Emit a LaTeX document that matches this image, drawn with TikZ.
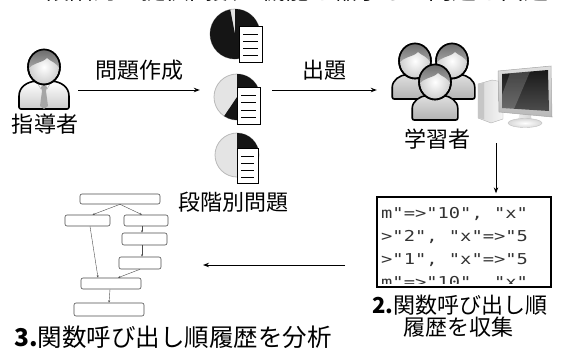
\documentclass[tikz,border=0pt]{standalone}
\usepackage{fontspec}
\setmainfont{Noto Sans CJK JP}
\newfontfamily\codefont{DejaVu Sans Mono}
\usetikzlibrary{arrows.meta}

\definecolor{piedark}{HTML}{151515}
\definecolor{pielight}{HTML}{E4E4E4}

\tikzset{
  lbl/.style={inner sep=0pt, font=\fontsize{22}{22}\selectfont},
  biglbl/.style={inner sep=0pt, font=\fontsize{24.5}{24.5}\selectfont},
  flow/.style={-{Stealth[length=6pt,width=4.5pt]}, line width=0.9pt},
  fbox/.style={draw=black!70, rounded corners=2pt, line width=0.6pt, inner sep=0pt},
  farr/.style={-{Stealth[length=2.4pt,width=2pt]}, line width=0.4pt, draw=black!70},
  anchorbox/.style={inner sep=0pt, minimum height=1pt},
  % head with hair, shared by all figures
  pics/headpart/.style={code={
    \path[draw=black, line width=1.6pt, inner color=white, outer color=gray!40]
      (0,0) ellipse [x radius=16, y radius=17.5];
    \path[top color=gray!85!black, bottom color=gray!65]
      (-16,3) .. controls (-17,-12) and (-9,-17.5) .. (0,-17.5)
      .. controls (9,-17.5) and (17,-12) .. (16,3)
      .. controls (13,-5) and (7,-5) .. (3,-9)
      .. controls (-3,-3) and (-12,-5) .. (-16,3) -- cycle;
    \draw[line width=1.6pt] (0,0) ellipse [x radius=16, y radius=17.5];
  }},
  pics/teacherfig/.style={code={
    \path[draw=black, line width=1.6pt, top color=white, bottom color=gray!40, rounded corners=2pt]
      (-25,42) -- (-25,31) .. controls (-25,20) and (-17,15) .. (-7,14) -- (7,14)
      .. controls (17,15) and (25,20) .. (25,31) -- (25,42) -- cycle;
    \draw[gray!60, line width=0.5pt] (-8,14) -- (-3,22) -- (0,17) -- (3,22) -- (8,14);
    \fill[gray!70] (0,17) -- (-3,20) -- (-2,24) -- (-4,39) -- (0,42) -- (4,39) -- (2,24) -- (3,20) -- cycle;
    \pic {headpart};
  }},
  pics/learnerfig/.style={code={
    \path[draw=black, line width=1.6pt, top color=gray!25, bottom color=gray!60, rounded corners=2pt]
      (-24,40) -- (-24,30) .. controls (-24,20) and (-16,15) .. (-7,14) -- (7,14)
      .. controls (16,15) and (24,20) .. (24,30) -- (24,40) -- cycle;
    \fill[white] (-6,14) -- (-3,19) -- (0,16) -- (3,19) -- (6,14) -- cycle;
    \draw[gray!70, line width=0.5pt] (-6,14) -- (-3,19) -- (0,16) -- (3,19) -- (6,14);
    \pic {headpart};
  }},
}

% a pie chart; the dark sector runs from #4 to #5 degrees
\newcommand\piechart[5]{%
  \begin{scope}[shift={(#1,#2)}, yscale=-1]
    \fill[pielight] (0,0) circle (#3);
    \draw[gray!55, line width=0.8pt] (0,0) circle (#3);
    \fill[piedark] (0,0) -- (#4:#3) arc[start angle=#4, end angle=#5, radius=#3] -- cycle;
  \end{scope}}
% a sheet of paper with four text lines
\newcommand\sheet[4]{%
  \filldraw[fill=white, draw=black, line width=0.9pt] (#1,#2) rectangle (#3,#4);
  \foreach \k in {1,2,3,4}
    \draw[line width=0.9pt] ({#1+4},{#2+(#4-#2)*(\k*0.2+0.03)}) -- ({#3-4},{#2+(#4-#2)*(\k*0.2+0.03)});}

\begin{document}
\begin{tikzpicture}[x=1pt, y=-1pt]
\useasboundingbox (0,0) rectangle (561,354);
\clip (0,0) rectangle (561,354);

% heading
\node[anchor=base, inner sep=0pt, font=\fontsize{24}{24}\selectfont] (title) at (287,-1)
  {1.段階的に提供関数・機能を縮小して問題を出題};

% teacher
\pic at (44,67) {teacherfig};
\node[lbl] (teacherlbl) at (45,124) {指導者};
\node[anchorbox, minimum width=62pt] (teacher) at (47,90) {};

% staged problems
\piechart{235}{34}{25}{101}{450}
\sheet{239}{26}{262}{62}
\piechart{237}{97}{23}{236}{450}
\sheet{237}{87}{260}{124}
\piechart{237}{155}{22}{0}{90}
\sheet{237}{148}{258}{183}
\node[lbl] (problbl) at (233,202) {段階別問題};
\node[anchorbox, minimum width=72pt] (probs) at (236,90) {};

% learners
\pic[scale=0.95] at (415,61) {learnerfig};
\pic[scale=0.95] at (452,61) {learnerfig};
\pic[scale=0.95] at (435,82) {learnerfig};
\node[lbl] (learnerlbl) at (437,139) {学習者};
\node[anchorbox, minimum width=120pt] (learners) at (437,90) {};

% computer: tower
\path[draw=gray!60, line width=0.4pt, left color=gray!30, right color=gray!8]
  (478,84) -- (492,80) -- (503,82) -- (503,119) -- (491,123) -- (478,118) -- cycle;
\fill[gray!45] (478,84) -- (484,83) -- (484,119) -- (478,118) -- cycle;
% computer: stand
\path[left color=gray!15, right color=gray!35] (520,110) -- (530,110) -- (532,122) -- (518,122) -- cycle;
\path[draw=gray!50, line width=0.4pt, inner color=white, outer color=gray!30]
  (525,123) ellipse [x radius=17, y radius=4.5];
% computer: monitor
\path[draw=gray!70, line width=0.5pt, top color=gray!25, bottom color=gray!55]
  (498,71) -- (551,66) -- (552,117) -- (499,112) -- cycle;
\path[top color=black!90, bottom color=black!70]
  (502,74) -- (548,70) -- (549,111) -- (502,108) -- cycle;
\fill[white, opacity=0.18] (510,73.3) -- (530,71.6) -- (514,109) -- (502,108) -- (502,95) -- cycle;
\node[anchorbox, minimum height=24pt] (pc) at (496,131) {};

% collected call log
\node[draw=black, line width=1.3pt, minimum width=174pt, minimum height=90pt, inner sep=0pt]
  (log) at (464,242) {};
\begin{scope}
  \clip (378,198) rectangle (550,283.5);
  \foreach \y/\t in {218/{m"=>"10", "x"}, 241/{>"2", "x"=>"5}, 264/{>"1", "x"=>"5}, 287/{m"=>"10", "x"}}
    \node[anchor=base west, inner sep=0pt, text=black!80] at (381,\y)
      {\scalebox{1.25}[1]{\codefont\fontsize{15}{15}\selectfont\t}};
\end{scope}
\node[lbl] (loglbla) at (460,305) {\textbf{2.}関数呼び出し順};
\node[lbl] (loglblb) at (458,327) {履歴を収集};

% call-order graph
\node[fbox, minimum width=80pt, minimum height=10pt] (fa) at (120,199) {};
\node[fbox, minimum width=45pt, minimum height=11pt] (fb) at (87.5,220.5) {};
\node[fbox, minimum width=44pt, minimum height=11pt] (fc) at (146,220.5) {};
\node[fbox, minimum width=45pt, minimum height=12pt] (fd) at (144.5,239) {};
\node[fbox, minimum width=42pt, minimum height=12pt] (fe) at (140,263) {};
\node[fbox, minimum width=60pt, minimum height=11pt] (ff) at (111,283.5) {};
\node[fbox, minimum width=70pt, minimum height=13pt] (fg) at (109,309.5) {};
\draw[farr] (fa.south) -- ([xshift=5pt]fb.north);
\draw[farr] (fa.south) -- ([xshift=-4pt]fc.north);
\draw[farr] ([xshift=-4pt]fc.south) -- ([xshift=-2.5pt]fd.north);
\draw[farr] ([xshift=-2.5pt]fd.south) -- ([xshift=2pt]fe.north);
\draw[farr] ([xshift=2.5pt]fb.south) -- ([xshift=-13pt]ff.north);
\draw[farr] (fe.south) -- ([xshift=7pt]ff.north);
\draw[farr] ([xshift=-1pt]ff.south) -- (fg.north);
\node[biglbl] (analbl) at (173,337) {\textbf{3.}関数呼び出し順履歴を分析};

% flow between the stages
\draw[flow] (teacher.east) -- node[lbl, above=9pt] (makelbl) {問題作成} (probs.west);
\draw[flow] (probs.east) -- node[lbl, above=9pt] (givelbl) {出題} (learners.west);
\draw[flow, shorten >=3pt] (pc.south) -- (pc.south |- log.north);
\coordinate (backfrom) at (345,265);
\coordinate (backto) at (203,265);
\draw[flow] (backfrom) -- (backto);
\end{tikzpicture}
\end{document}
